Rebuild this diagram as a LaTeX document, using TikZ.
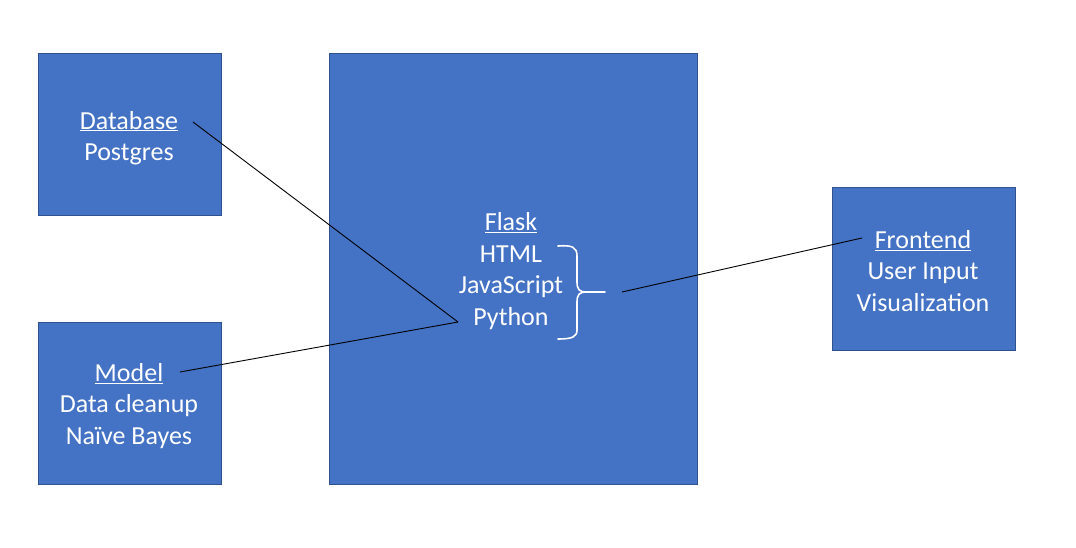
\documentclass[tikz,border=0pt]{standalone}
\usepackage{fontspec}
\setmainfont{Carlito}
\definecolor{boxfill}{HTML}{4472C4}
\definecolor{boxline}{HTML}{2F528F}
\begin{document}
\begin{tikzpicture}[x=1pt,y=-1pt,
  blockbox/.style={fill=boxfill,draw=boxline,line width=1pt},
  label/.style={text=white,align=center,font=\fontsize{26}{31.5}\selectfont,inner sep=0pt},
  link/.style={draw=black,line width=0.9pt}]
\useasboundingbox (0,0) rectangle (1076,548);
\fill[white] (0,0) rectangle (1076,548);
\path[blockbox] (38,54) rectangle (221,216);
\path[blockbox] (38,322) rectangle (221,484);
\path[blockbox] (329,54) rectangle (697,484);
\path[blockbox] (832,188) rectangle (1015,350);
\node[label] (db) at (129,138) {\underline{Database}\\Postgres};
\node[label] (model) at (129,406) {\underline{Model}\\Data cleanup\\Naïve Bayes};
\node[label] (flask) at (511,271) {\underline{Flask}\\HTML\\JavaScript\\Python};
\node[label] (front) at (923,271) {\underline{Frontend}\\User Input\\Visualization};
\coordinate (dbEnd) at (193,122);
\coordinate (modelEnd) at (180,372);
\coordinate (hub) at (458,322);
\coordinate (braceEnd) at (622,292);
\coordinate (frontEnd) at (862,238);
\draw[link] (dbEnd) -- (hub);
\draw[link] (modelEnd) -- (hub);
\draw[link] (braceEnd) -- (frontEnd);
\draw[white,line width=1.6pt,line cap=round,line join=round]
  (558,246) .. controls (572,245) and (577,247) .. (577,256) -- (577,282)
  .. controls (577,290) and (580,292) .. (586,292) -- (605,292)
  (586,292) .. controls (580,292) and (577,294) .. (577,302) -- (577,330)
  .. controls (577,337) and (572,339) .. (558,339);
\end{tikzpicture}
\end{document}
